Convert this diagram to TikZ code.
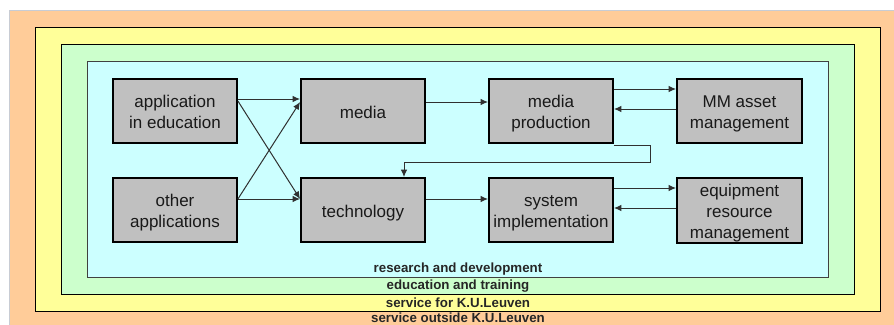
\documentclass[tikz,border=0pt]{standalone}
\usepackage{fontspec}
\setmainfont{Liberation Sans}
\usetikzlibrary{arrows.meta}
\definecolor{orangebg}{HTML}{FFCC99}
\definecolor{yellowbg}{HTML}{FFFF99}
\definecolor{greenbg}{HTML}{CCFFCC}
\definecolor{cyanbg}{HTML}{CCFFFF}
\definecolor{boxgray}{HTML}{C0C0C0}
\definecolor{linegray}{HTML}{303030}
\definecolor{edgegray}{HTML}{C8CCD4}
\newcommand\btxt[2][-3.3pt]{\raisebox{#1}[\height][\depth]{\begin{tabular}{@{}c@{}}#2\end{tabular}}}
\tikzset{
  box/.style={draw=black, line width=1.8pt, fill=boxgray, minimum width=124pt, minimum height=64pt,
    inner sep=0pt, text=black!90, font=\fontsize{17}{21}\selectfont},
  arr/.style={draw=linegray, line width=1pt, -{Latex[length=7.5pt,width=6.5pt]}},
  band/.style={font=\bfseries\fontsize{13.3}{14}\selectfont, text=black!85, inner sep=0pt}
}
\begin{document}
\begin{tikzpicture}[x=1pt,y=-1pt]
\useasboundingbox (0,0) rectangle (894,324);
\clip (0,0) rectangle (894,324);
\fill[white] (0,0) rectangle (894,324);
\fill[orangebg] (9,10) rectangle (900,330);
\draw[edgegray, line width=1pt] (9,330) -- (9,10) -- (900,10);
\draw[black, line width=1pt, fill=yellowbg] (35,27) rectangle (880,311);
\draw[black, line width=1pt, fill=greenbg] (61,44) rectangle (854,294);
\draw[black!75, line width=1pt, fill=cyanbg] (87,61) rectangle (828,277);

\node[band] (rd) at (458,269) {research and development};
\node[band] (et) at (458,286.5) {education and training};
\node[band] (sk) at (458,303) {service for K.U.Leuven};
\node[band] (so) at (458,318) {service outside K.U.Leuven};

\node[box] (ae) at (175,111) {\btxt[-2.8pt]{application\\in education}};
\node[box] (media) at (363,111) {\btxt{media}};
\node[box] (mp) at (551,111) {\btxt[-2.8pt]{media\\production}};
\node[box, minimum width=125pt] (mm) at (739.5,111) {\btxt[-2.8pt]{MM asset\\management}};
\node[box] (oa) at (175,210) {\btxt[-2.8pt]{other\\applications}};
\node[box] (tech) at (363,210) {\btxt{technology}};
\node[box] (si) at (551,210) {\btxt[-2.8pt]{system\\implementation}};
\node[box, minimum width=125pt, minimum height=65pt] (eq) at (739.5,210.5) {\btxt[-3pt]{equipment\\resource\\management}};

\draw[arr] (ae.east |- 0,99) -- (media.west |- 0,99);
\draw[arr] (ae.east |- 0,101) -- (tech.west |- 0,199);
\draw[arr] (oa.east |- 0,199) -- (media.west |- 0,102);
\draw[arr] (oa.east |- 0,199) -- (tech.west |- 0,199);
\draw[arr] (media.east |- 0,102) -- (mp.west |- 0,102);
\draw[arr] (tech.east |- 0,199) -- (si.west |- 0,199);
\draw[arr] (mp.east |- 0,89) -- (mm.west |- 0,89);
\draw[arr] (mm.west |- 0,109) -- (mp.east |- 0,109);
\draw[arr] (si.east |- 0,188) -- (eq.west |- 0,188);
\draw[arr] (eq.west |- 0,208) -- (si.east |- 0,208);
\coordinate (turn) at (650,162);
\draw[arr] ([yshift=-1.5pt]mp.south east) -| (turn) -| (tech.north -| 404,0);
\end{tikzpicture}
\end{document}
